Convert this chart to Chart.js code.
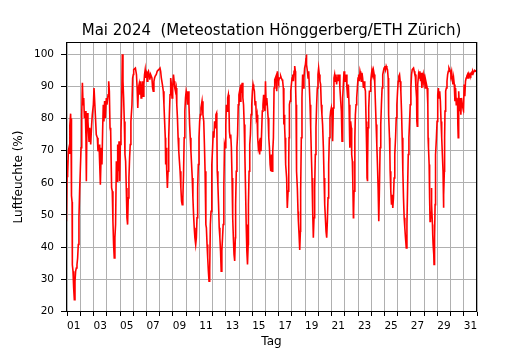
<!DOCTYPE html>
<html>
<head>
<meta charset="utf-8">
<script src="https://cdn.jsdelivr.net/npm/chart.js@4.4.1/dist/chart.umd.min.js"></script>
<style>
html,body{margin:0;padding:0;background:#ffffff;}
#c{display:block;}
</style>
</head>
<body>
<canvas id="c" width="530" height="350"></canvas>
<script>
// time in days since 1 May 2024 00:00, relative humidity in %
const timesWk1 = [
 -0.09,-0.06,-0.01,0.01,0.06,0.09,0.14,0.19,0.21,0.26,
 0.29,0.31,0.34,0.37,0.39,0.44,0.49,0.54,0.59,0.64,
 0.69,0.74,0.79,0.84,0.89,0.94,0.99,1.05,1.10,1.15,
 1.20,1.25,1.30,1.37,1.42,1.45,1.50,1.57,1.65,1.70,
 1.78,1.85,1.90,1.98,2.03,2.08,2.13,2.20,2.28,2.33,
 2.41,2.46,2.51,2.58,2.63,2.68,2.73,2.78,2.83,2.88,
 2.96,3.01,3.09,3.14,3.19,3.24,3.29,3.36,3.41,3.46,
 3.51,3.56,3.61,3.66,3.72,3.77,3.82,3.87,3.92,3.97,
 4.02,4.07,4.12,4.17,4.22,4.27,4.32,4.37,4.42,4.47,
 4.52,4.57,4.62,4.67,4.72,4.77,4.82,4.90,4.95,5.00];
const humWk1 = [
 65,48,62,67,63,70,71,69,78,81.5,
 75,80,56,54,34.5,32.5,27.3,23.6,29.3,32.5,
 33.5,34.5,36.6,40.8,49.1,57.4,63.6,70.9,81.2,91.1,
 84.3,86.4,80.2,82.3,74,60.5,81.7,79.1,72.9,77.1,
 71.9,78.1,81.2,84.3,89.5,89.5,81.2,75,74,69.8,
 71.9,65.7,59.4,70.9,65.7,76,84.3,79.1,85.4,80.2,
 86.4,84.3,87.4,91.6,88.5,77.1,76,58.4,57.4,48,
 40.8,36.6,42.9,47,66.7,60.5,71.9,63.6,72.9,60.5,
 71.9,76,84.3,100,91.6,86.4,79.1,68.8,66.7,58.4,
 49.1,47,55.3,61.5,67.7,71.9,79.1,84.3,92.6,93.7];

const timesWk2 = [
 5.03,5.16,5.24,5.29,5.34,5.39,5.44,5.49,5.54,5.59,
 5.64,5.69,5.75,5.80,5.85,5.90,5.95,6.00,6.05,6.10,
 6.15,6.20,6.25,6.31,6.41,6.46,6.51,6.56,6.61,6.66,
 6.74,6.81,6.92,7.02,7.07,7.12,7.20,7.27,7.32,7.37,
 7.42,7.45,7.48,7.53,7.58,7.63,7.68,7.73,7.78,7.83,
 7.88,7.93,7.98,8.04,8.09,8.14,8.19,8.24,8.29,8.34,
 8.39,8.44,8.49,8.54,8.60,8.65,8.70,8.75,8.80,8.85,
 8.90,8.95,9.00,9.05,9.10,9.16,9.21,9.26,9.31,9.36,
 9.41,9.46,9.51,9.56,9.61,9.66,9.72,9.77,9.82,9.87,
 9.92,9.97,10.02,10.07,10.12,10.20,10.27,10.33];
const humWk2 = [
 95.2,95.7,93.7,89.5,83.3,89.5,90.6,87.4,91.6,86.4,
 88.5,91.6,86.9,90.6,93.7,95.2,92.6,94.7,91.6,94.2,
 94.7,93.7,92.1,93.7,92.6,89.5,88.5,91.6,92.6,93.2,
 93.7,94.7,95.2,95.7,94.7,92.6,90.6,88.5,84.3,79.1,
 74,65.7,70.9,63.6,58.4,63.6,74,81.2,87.4,92.6,
 90.6,86.4,89.5,93.7,91.6,89.5,88.5,89.5,84.3,80.2,
 74,69.8,66.7,63.6,58.4,54.3,53.2,55.3,62.5,74,
 82.3,86.4,88.5,87.4,84.3,88.5,84.3,78.1,74,69.8,
 65.7,61.5,55.3,50.1,46,42.9,40.8,42.9,49.1,58.4,
 65.7,74,79.1,81.2,83.3,85.4,81.2,79.1];

const timesWk3 = [
 10.38,10.43,10.48,10.50,10.53,10.58,10.63,10.68,10.73,10.78,
 10.83,10.88,10.93,10.95,11.00,11.05,11.10,11.15,11.20,11.25,
 11.30,11.32,11.35,11.40,11.45,11.50,11.55,11.60,11.65,11.70,
 11.75,11.80,11.85,11.90,11.95,12.00,12.04,12.09,12.14,12.19,
 12.24,12.27,12.32,12.37,12.42,12.47,12.52,12.57,12.62,12.67,
 12.72,12.74,12.79,12.84,12.89,12.94,12.99,13.04,13.09,13.14,
 13.19,13.24,13.29,13.34,13.39,13.44,13.49,13.54,13.59,13.64,
 13.69,13.71,13.76,13.81,13.86,13.91,13.96,14.01,14.06,14.11,
 14.16,14.21,14.26,14.31,14.36,14.41,14.46,14.51,14.56,14.61,
 14.66,14.71,14.76,14.81,14.86,14.91,14.96,15.00,15.05,15.10,
 15.15,15.20,15.25,15.30,15.35,15.40,15.45,15.50,15.55,15.60,
 15.65,15.70];
const humWk3 = [
 72,63.6,55.3,47,46,40.8,36.6,32.5,29.4,32.5,
 47,51.1,57.4,65.7,70.9,76,74,79.1,77.1,81.2,
 81.7,78.1,63.6,59.4,53.2,46,42.9,38.8,32.5,38.8,
 42.9,47,58.4,71.9,70.9,78.1,84.3,82.3,86.4,87.4,
 83.3,76,74,75,70.9,61.5,49.1,42.9,37.7,35.7,
 42.9,53.2,63.6,70.9,75,84.3,87.4,88.5,85.4,90.6,
 89.5,91.1,86.4,84.3,78.1,68.8,58.4,47,38.8,34.6,
 40.8,53.2,63.6,71.9,75,81.2,84.3,88.5,90.6,89.5,
 88.5,84.3,85.4,80.2,81.2,74,70.9,71.9,68.8,74,
 69.8,76,82.3,84.3,87.4,84.3,82.3,91.6,84.3,86.4,
 83.3,80.2,74,70.9,65.7,63.6,68.8,63.6,69.8,74,
 89.5,92.1];

const timesWk4 = [
 15.80,15.85,15.90,15.95,16.00,16.05,16.10,16.15,16.20,16.25,
 16.30,16.35,16.38,16.40,16.43,16.45,16.48,16.50,16.55,16.60,
 16.63,16.65,16.71,16.76,16.78,16.81,16.86,16.91,16.96,17.01,
 17.06,17.11,17.16,17.21,17.26,17.28,17.31,17.34,17.36,17.41,
 17.46,17.49,17.54,17.59,17.64,17.66,17.71,17.76,17.81,17.86,
 17.91,17.96,18.02,18.07,18.09,18.12,18.17,18.22,18.27,18.32,
 18.37,18.42,18.47,18.52,18.57,18.62,18.67,18.72,18.77,18.82,
 18.87,18.92,18.97,19.02,19.07,19.12,19.17,19.22,19.27,19.32,
 19.38,19.43,19.48,19.53,19.58,19.63,19.68,19.73,19.78,19.83,
 19.88,19.93,19.98,20.03,20.08,20.13,20.18,20.23,20.28,20.33,
 20.38,20.43,20.48,20.53,20.58,20.63,20.69,20.74,20.79,20.84,
 20.89,20.94,20.99];
const humWk4 = [
 93.2,88.5,94.7,92.6,91.6,92.6,92.6,93.2,92.6,92.1,
 91.6,89.5,86.4,78.1,81.2,77.1,74,68.8,65.7,61.5,
 55.3,52.2,57.4,67.7,74,84.3,85.4,88.5,90.6,92.6,
 93.7,91.6,94.7,96.3,94.7,89.5,84.3,74,63.6,58.4,
 51.1,48,43.9,39.1,44.9,57.4,74,86.4,93.7,89.5,
 92.6,95.7,96.8,98.9,99.9,96.8,94.7,92.6,94.7,89.5,
 84.3,77.1,68.8,61.5,51.1,42.9,49.1,58.4,68.8,77.1,
 84.3,89.5,93.7,95.7,93.7,91.6,90.6,84.3,81.2,78.1,
 70.9,61.5,53.2,49.1,44.9,42.9,48,55.3,65.7,74,
 80.2,82.3,83.3,81.2,72.9,83.3,92.6,93.7,91.6,93.7,
 90.6,92.6,93.7,91.6,93.7,89.5,85.4,82.3,72.9,86.4,
 90.6,94.7,91.6];

const timesWk5 = [
 21.06,21.11,21.16,21.22,21.27,21.32,21.37,21.39,21.44,21.49,
 21.52,21.57,21.59,21.62,21.65,21.67,21.70,21.75,21.77,21.80,
 21.85,21.90,21.95,22.00,22.05,22.10,22.15,22.20,22.25,22.30,
 22.35,22.41,22.46,22.51,22.56,22.61,22.66,22.68,22.71,22.73,
 22.76,22.81,22.86,22.91,22.96,23.01,23.06,23.11,23.16,23.22,
 23.27,23.32,23.37,23.42,23.47,23.52,23.57,23.62,23.67,23.72,
 23.77,23.82,23.87,23.92,23.97,24.03,24.08,24.13,24.18,24.23,
 24.28,24.30,24.33,24.38,24.41,24.43,24.48,24.53,24.58,24.63,
 24.68,24.73,24.78,24.84,24.89,24.94,24.99,25.04,25.09,25.14,
 25.19,25.24,25.29,25.34,25.39,25.44,25.49,25.54,25.59,25.65,
 25.70,25.75,25.80,25.85,25.90,25.95,26.00,26.05,26.10,26.15,
 26.20,26.25,26.30];
const humWk5 = [
 91.6,93.7,89.5,86.4,90.6,84.3,74,70.9,79.1,77.1,
 68.8,66.7,63.6,60.5,49.1,51.1,57.4,63.6,74,81.2,
 84.3,86.4,89.5,92.6,93.7,91.6,94.7,93.7,91.6,94.2,
 92.6,89.5,91.6,89.5,88.5,79.1,68.8,61.5,60.5,65.7,
 77.1,83.3,88.5,88.5,91.6,93.7,95.2,94.2,95.2,93.7,
 90.6,84.3,78.1,71.9,65.7,58.4,48,58.4,70.9,78.1,
 84.3,89.5,93.7,94.7,95.7,96.3,95.2,96.3,95.7,95.2,
 92.6,89.5,81.2,74,68.8,63.6,57.4,53.2,56.3,52.2,
 55.3,61.5,68.8,74,80.2,84.3,88.5,91.6,93.2,93.7,
 91.6,88.5,82.3,74,63.6,55.3,49.1,46,42.9,39.7,
 47,58.4,68.8,74,79.1,84.3,89.5,93.7,95.2,95.2,
 95.7,94.7,93.7];

const timesWk6 = [
 26.33,26.38,26.43,26.45,26.48,26.50,26.53,26.58,26.63,26.68,
 26.73,26.78,26.83,26.88,26.93,26.98,27.03,27.08,27.13,27.18,
 27.23,27.28,27.30,27.33,27.38,27.40,27.43,27.45,27.48,27.53,
 27.55,27.58,27.63,27.65,27.68,27.73,27.75,27.78,27.80,27.83,
 27.85,27.88,27.93,27.98,28.03,28.08,28.13,28.18,28.23,28.28,
 28.33,28.38,28.43,28.45,28.48,28.50,28.53,28.55,28.58,28.63,
 28.68,28.73,28.78,28.83,28.88,28.93,28.98,29.03,29.08,29.13,
 29.18,29.23,29.28,29.33,29.38,29.43,29.48,29.53,29.55,29.58,
 29.60,29.63,29.68,29.73,29.78,29.83,29.88,29.93,29.98,30.03,
 30.08,30.13,30.18,30.23,30.28,30.33,30.38,30.43,30.48,30.53,
 30.58,30.63,30.68,30.73,30.78,30.83,30.88,30.93,30.99];
const humWk6 = [
 93.7,89.5,86.4,79.1,77.6,84.3,90.6,93.7,92.6,94.7,
 91.6,94.2,89.5,92.6,93.7,91.6,92.6,89.5,91.6,90.6,
 89.5,84.3,74,70.9,65.7,58.4,55.3,48,51.1,49.1,
 58.4,53.2,47,44,40.8,37.7,34.6,38.8,42.9,53.2,
 60.5,68.8,74,79.1,87.4,89.5,86.4,88.5,85.4,79.1,
 74,68.8,63.6,58.4,52.2,56.3,63.6,74,82.3,88.5,
 89.5,91.6,93.7,94.7,95.7,95.2,94.7,93.7,94.7,92.6,
 90.6,92.6,90.6,85.4,89.5,84.3,86.4,84.3,78.1,74,
 81.2,88.5,82.3,86.4,81.2,86.4,84.3,83.3,82.8,90.6,
 86.9,91.6,92.6,93.2,93.7,92.6,93.7,93.2,93.9,93.5,
 94.2,93.7,94.7,94.2,94.7,94.9,94.7,94.9,95];

// axis ticks
const dayTickValues = [0,1,2,3,4,5,6,7,8,9,10,11,12,13,14,15,16,17,18,19,20,21,22,23,24,25,26,27,28,29,30,31];
const dayTickLabels = ['01','','03','','05','','07','','09','','11','','13','','15','','17','','19','','21','','23','','25','','27','','29','','31',''];
const humTickValues = [20,30,40,50,60,70,80,90,100];

const titleText = 'Mai 2024  (Meteostation Hönggerberg/ETH Zürich)';
const xTitle = 'Tag';
const yTitle = 'Luftfeuchte (%)';

const allTimes = [].concat(timesWk1, timesWk2, timesWk3, timesWk4, timesWk5, timesWk6);
const allHum = [].concat(humWk1, humWk2, humWk3, humWk4, humWk5, humWk6);
const points = allTimes.map((t, i) => ({x: t, y: allHum[i]}));

const FONT = 'DejaVu Sans';
Chart.defaults.font.family = FONT;
Chart.defaults.color = '#000';

// frame around the plot area + title centred over the plot area
const framePlugin = {
  id: 'frame',
  afterDraw(chart) {
    const {ctx, chartArea: a} = chart;
    ctx.save();
    ctx.strokeStyle = '#000';
    ctx.lineWidth = 1;
    const l = Math.round(a.left) + 0.5, t = Math.round(a.top) + 0.5;
    const r = Math.round(a.right) - 0.5, b = Math.round(a.bottom) - 0.5;
    ctx.strokeRect(l, t, r - l, b - t);
    ctx.fillStyle = '#000';
    ctx.font = '15px "' + FONT + '"';
    ctx.textAlign = 'center';
    ctx.textBaseline = 'alphabetic';
    ctx.fillText(titleText, (a.left + a.right) / 2, a.top - 7.5);
    ctx.restore();
  }
};

new Chart(document.getElementById('c'), {
  type: 'line',
  data: {
    datasets: [{
      label: 'Luftfeuchte',
      data: points,
      borderColor: '#ff0000',
      borderWidth: 1.6,
      pointRadius: 0,
      tension: 0,
      fill: false
    }]
  },
  options: {
    responsive: false,
    animation: false,
    devicePixelRatio: 1,
    layout: {padding: {left: 0, right: 53, top: 42, bottom: 0}},
    plugins: {
      legend: {display: false},
      tooltip: {enabled: false},
      title: {display: false}
    },
    scales: {
      x: {
        type: 'linear',
        bounds: 'data',
        min: -0.09,
        max: 31,
        afterBuildTicks: s => { s.ticks = dayTickValues.map(v => ({value: v})); },
        afterFit: s => { s.height = 38; },
        ticks: {
          autoSkip: false, maxRotation: 0, minRotation: 0,
          padding: 3.5, labelOffset: 6.6, color: '#000',
          font: {family: FONT, size: 10.5},
          callback: (v, i) => dayTickLabels[i]
        },
        grid: {color: '#b0b0b0', lineWidth: 1, tickLength: 4, tickColor: '#000', tickWidth: 1},
        border: {display: false},
        title: {display: true, text: xTitle, color: '#000', font: {family: FONT, size: 12}, padding: {top: 0, bottom: 0.5}}
      },
      y: {
        type: 'linear',
        bounds: 'data',
        min: 19.8,
        max: 103.8,
        afterBuildTicks: s => { s.ticks = humTickValues.map(v => ({value: v})); },
        afterFit: s => { s.width = 66; },
        ticks: {padding: 7, color: '#000', font: {family: FONT, size: 10.5}, callback: v => String(v)},
        grid: {color: '#b0b0b0', lineWidth: 1, tickLength: 5, tickColor: '#000', tickWidth: 1},
        border: {display: false},
        title: {display: true, text: yTitle, color: '#000', font: {family: FONT, size: 12}, padding: {top: 12, bottom: 0}}
      }
    }
  },
  plugins: [framePlugin]
});
</script>
</body>
</html>
